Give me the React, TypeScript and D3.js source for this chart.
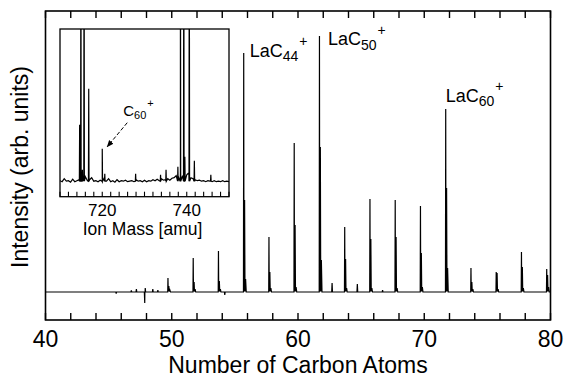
import React from "react";
import * as d3 from "d3";

// ---- Main spectrum data (x in "Number of Carbon Atoms" axis units, intensity arb.) ----
const peakPos = [49.7, 51.7, 53.7, 55.7, 57.7, 59.7, 61.7, 63.7, 65.7, 67.7, 69.7, 71.7, 73.7, 75.7, 77.7, 79.7];
const peakMain = [14, 34, 41, 239, 55, 149, 256, 65, 93, 92, 86, 183, 24, 20, 40, 23];
const peakSecond = [6, 10, 11, 92, 20, 67, 145, 33, 53, 55, 39, 104, 10, 19, 25, 17];
const peakThird = [2, 3, 3, 13, 4, 5, 32, 4, 4, 4, 5, 24, 3, 3, 4, 5];
const smallPos = [45.6, 46.8, 47.2, 47.86, 47.9, 48.5, 48.9, 54.2, 62.7, 64.7, 66.7];
const smallVal = [-1.5, 1.5, 3, -11, 4, 3, 2, -3, 9, 8, 2];

// ---- Inset data (ion mass in amu) ----
const insetNoiseStart = 710;
const insetNoise = [1, 0, 3, 0.5, 1, -0.5, 2.5, 0, 1, 2, 0, 3, 5, 1, 2, 4, 0.5, 1, 0, 1.5, 0, 4, 0.5, 3, 0, 1, -0.5, 2, 0, 1, 0.5, 1.5, 0, 0.5, 1, 0, 2, 0.5, 1, 0, 1.5, 0, 1, 0.5, 2, 1, 2.5, 1, 3, 1.5, 2, 3, 1.5, 3.5, 4, 6, 5, 8, 6, 10, 7, 9, 4, 3, 2, 1, 1.5, 0.5, 1, 0, 1, 0.5, 0, 1, 0, 0.5, 0, 1, 0, 0.5, 0];
const insetPeakMass = [714.65, 714.95, 715.3, 715.7, 716.8, 720.0, 720.6, 727.9, 733.8, 735.1, 737.9, 738.5, 739.3, 739.55, 740.6, 741.8, 745.7];
const insetPeakHeight = [57, 300, 12, 300, 93, 33, 8, 8, 7, 12, 15, 300, 300, 25, 300, 21, 7];
const insetTickLabels = [720, 740];

const xTicks = d3.range(40, 81, 2);
const xTickLabels = [40, 50, 60, 70, 80];
const insetTicks = d3.range(710, 751, 2);

const FONT = "'Liberation Sans', Arial, Helvetica, sans-serif";

export default function App() {
  const W = 565, H = 378;
  const L = 45.5, R = 550.5, T = 11, B = 320;
  const x = d3.scaleLinear().domain([40, 80]).range([L, R]);
  const y = d3.scaleLinear().domain([0, 256]).range([292, 36]);

  // build main spectrum points
  const pts: [number, number][] = [[40, 0], [80, 0]];
  peakPos.forEach((p, i) => {
    pts.push([p - 0.02, 0], [p, peakMain[i]], [p + 0.02, 0.5], [p + 0.07, peakSecond[i]], [p + 0.1, 0.5], [p + 0.15, peakThird[i]], [p + 0.2, 0]);
  });
  smallPos.forEach((p, i) => {
    pts.push([p - 0.03, 0], [p, smallVal[i]], [p + 0.03, 0]);
  });
  pts.sort((a, b) => a[0] - b[0]);
  const line = d3.line<[number, number]>().x(d => x(d[0])).y(d => y(d[1]));

  // inset
  const iL = 60, iR = 229, iT = 29, iB = 196.7;
  const ix = d3.scaleLinear().domain([710, 750]).range([iL, iR]);
  const iy = d3.scaleLinear().domain([0, 100]).range([181.7, 81.7]);
  const ipts: [number, number][] = insetNoise.map((v, i) => [insetNoiseStart + i * 0.5, v]);
  insetPeakMass.forEach((m, i) => {
    ipts.push([m - 0.07, 0.5], [m, insetPeakHeight[i]], [m + 0.07, 0.5]);
  });
  ipts.sort((a, b) => a[0] - b[0]);
  const iline = d3.line<[number, number]>().x(d => ix(d[0])).y(d => iy(d[1]));

  const idx44 = peakPos.indexOf(55.7), idx50 = peakPos.indexOf(61.7), idx60 = peakPos.indexOf(71.7);
  const labels = [
    { n: "44", px: x(peakPos[idx44]) + 6, py: y(peakMain[idx44]) + 3.5 },
    { n: "50", px: x(peakPos[idx50]) + 8.5, py: y(peakMain[idx50]) + 9 },
    { n: "60", px: x(peakPos[idx60]), py: y(peakMain[idx60]) - 7.5 },
  ];

  const c60x = ix(720), c60y = iy(33);

  return (
    <svg width={W} height={H} style={{ position: "absolute", left: 0, top: 0, background: "#fff" }} fontFamily={FONT}>
      <defs>
        <clipPath id="mainClip"><rect x={L} y={T} width={R - L} height={B - T} /></clipPath>
        <clipPath id="insetClip"><rect x={iL} y={iT} width={iR - iL} height={iB - iT} /></clipPath>
        <marker id="arr" viewBox="0 0 10 10" refX="9" refY="5" markerWidth="7" markerHeight="7" orient="auto">
          <path d="M0,1 L10,5 L0,9 z" fill="#000" />
        </marker>
      </defs>
      <rect width={W} height={H} fill="#fff" />
      {/* main spectrum */}
      <path d={line(pts) || ""} fill="none" stroke="#000" strokeWidth={1.2} clipPath="url(#mainClip)" />
      {/* frame */}
      <rect x={L} y={T} width={R - L} height={B - T} fill="none" stroke="#000" strokeWidth={1.6} />
      {xTicks.map(t => (
        <g key={t}>
          <line x1={x(t)} x2={x(t)} y1={B} y2={B - 7} stroke="#000" strokeWidth={1.4} />
          <line x1={x(t)} x2={x(t)} y1={T} y2={T + 7} stroke="#000" strokeWidth={1.4} />
        </g>
      ))}
      {xTickLabels.map(t => (
        <text key={t} x={x(t)} y={346.5} fontSize={23} textAnchor="middle">{t}</text>
      ))}
      <text x={(L + R) / 2} y={373} fontSize={23} textAnchor="middle">Number of Carbon Atoms</text>
      <text transform={`translate(28,167) rotate(-90)`} fontSize={23} textAnchor="middle">Intensity (arb. units)</text>
      {labels.map(l => (
        <text key={l.n} x={l.px} y={l.py} fontSize={18}>
          LaC<tspan fontSize={14} dy={4.5}>{l.n}</tspan><tspan fontSize={14} dx={1} dy={-15}>+</tspan>
        </text>
      ))}
      {/* inset */}
      <rect x={iL} y={iT} width={iR - iL} height={iB - iT} fill="#fff" />
      <path d={iline(ipts) || ""} fill="none" stroke="#000" strokeWidth={1.2} clipPath="url(#insetClip)" />
      <rect x={iL} y={iT} width={iR - iL} height={iB - iT} fill="none" stroke="#000" strokeWidth={1.3} />
      {insetTicks.map(t => (
        <line key={t} x1={ix(t)} x2={ix(t)} y1={iB} y2={iB - 5} stroke="#000" strokeWidth={1.1} />
      ))}
      {insetTickLabels.map(t => (
        <text key={t} x={ix(t)} y={215.5} fontSize={17} textAnchor="middle">{t}</text>
      ))}
      <text x={(iL + iR) / 2 - 2} y={235} fontSize={17.5} textAnchor="middle">Ion Mass [amu]</text>
      <text x={c60x + 21} y={c60y - 33} fontSize={15}>
        C<tspan fontSize={11} dy={3}>60</tspan><tspan fontSize={11} dx={1} dy={-12}>+</tspan>
      </text>
      <line x1={c60x + 25} y1={c60y - 26} x2={c60x + 5} y2={c60y - 2} stroke="#000" strokeWidth={1} strokeDasharray="4,2" markerEnd="url(#arr)" />
    </svg>
  );
}
